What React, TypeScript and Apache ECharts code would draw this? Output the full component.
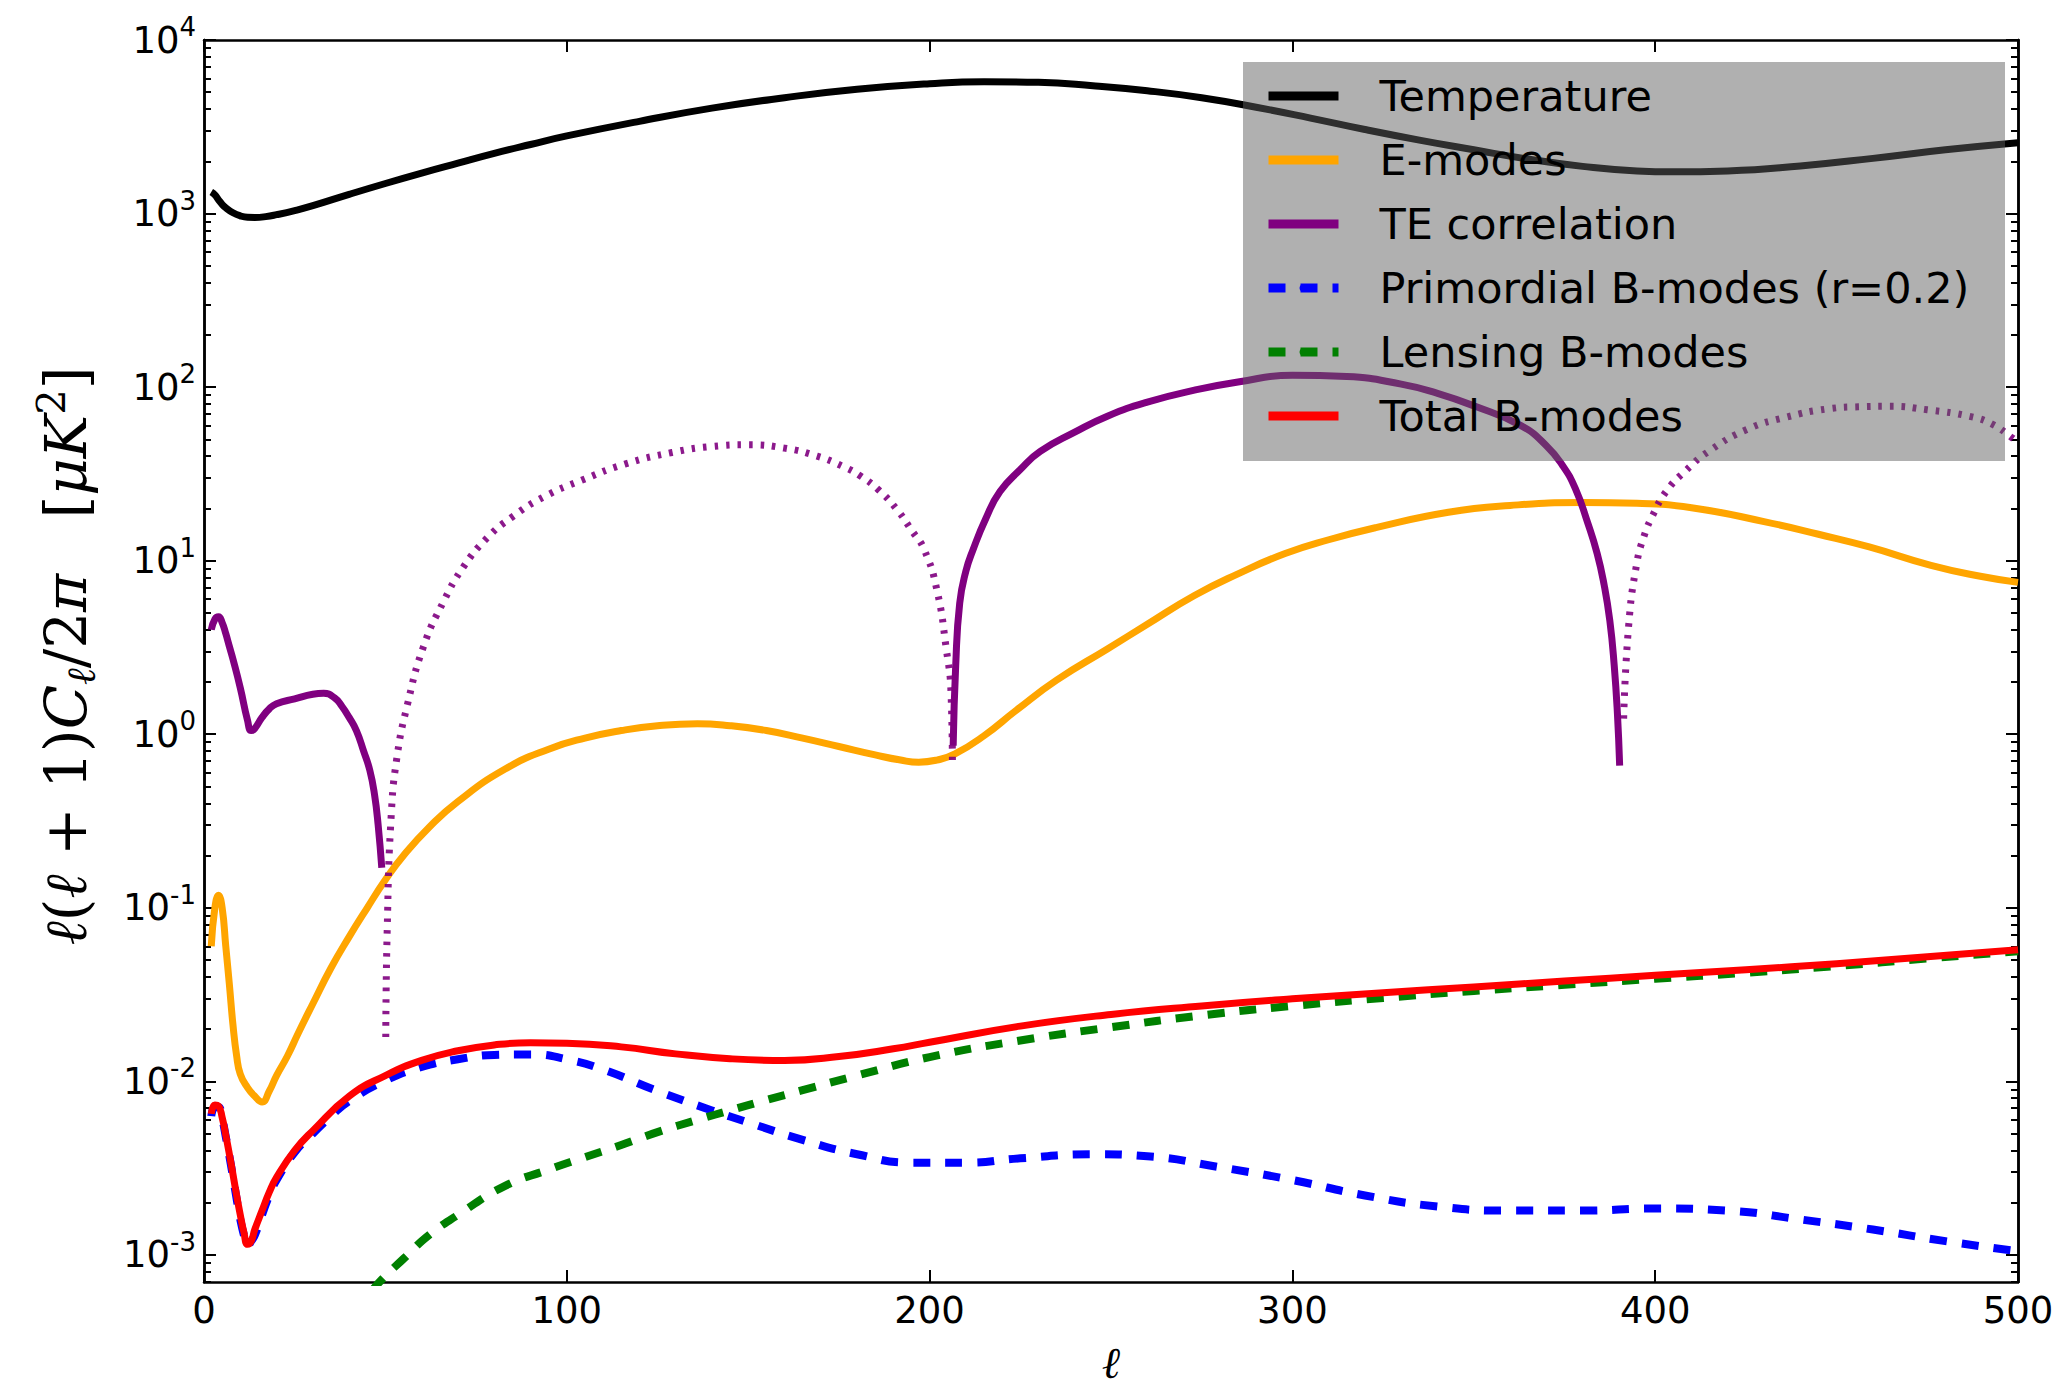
import React, { useEffect, useRef } from 'react';
import * as echarts from 'echarts';

// ---------- data (multipole ell, l(l+1)C_l/2pi in muK^2) ----------
const temperature: [number, number][] = [
  [2, 1330], [3, 1280], [4, 1200], [5, 1130], [6, 1080], [8, 1010], [10, 970], [12, 952], [14, 950],
  [17, 960], [20, 985], [25, 1040], [30, 1110], [40, 1290], [50, 1490], [60, 1710], [70, 1950],
  [80, 2220], [90, 2500], [100, 2800], [120, 3400], [140, 4050], [160, 4650], [180, 5200], [200, 5600],
  [215, 5750], [230, 5700], [245, 5450], [260, 5100], [275, 4650], [290, 4100], [305, 3550], [320, 3050],
  [335, 2650], [350, 2330], [365, 2060], [380, 1870], [395, 1760], [405, 1740], [420, 1760], [440, 1880],
  [460, 2080], [480, 2330], [500, 2560],
];

const eModes: [number, number][] = [
  [2, 0.06], [3, 0.1], [4, 0.118], [5, 0.1], [6, 0.06], [7, 0.036], [8, 0.021], [9, 0.014], [10, 0.011],
  [12, 0.0092], [14, 0.0082], [16, 0.0076], [18, 0.0088], [20, 0.0108], [23, 0.014], [26, 0.019],
  [30, 0.028], [35, 0.045], [40, 0.068], [45, 0.1], [50, 0.145], [55, 0.2], [62, 0.29], [70, 0.41],
  [83, 0.63], [95, 0.82], [105, 0.95], [115, 1.05], [125, 1.12], [136, 1.15], [145, 1.12], [155, 1.05],
  [165, 0.95], [175, 0.85], [185, 0.76], [192, 0.71], [197, 0.69], [202, 0.71], [207, 0.77], [215, 0.98],
  [224, 1.38], [235, 2.05], [249, 3.1], [260, 4.3], [273, 6.3], [285, 8.4], [298, 11], [310, 13.2],
  [323, 15.5], [343, 19], [360, 20.8], [380, 21.6], [395, 21.4], [410, 20.2], [430, 16.8], [445, 14.2],
  [459, 12], [476, 9.4], [490, 8.1], [500, 7.5],
];

// TE: positive parts (solid) and |negative| parts (dotted)
const tePositiveLow: [number, number][] = [
  [2, 4.0], [3, 4.6], [4, 4.75], [5, 4.4], [6, 3.8], [7, 3.2], [8, 2.7], [10, 1.85], [12, 1.2],
  [13, 1.05], [14, 1.08], [16, 1.25], [18, 1.4], [20, 1.5], [25, 1.6], [30, 1.7], [33, 1.72], [36, 1.62],
  [38, 1.45], [40, 1.25], [42, 1.05], [44, 0.8], [45.7, 0.62], [47, 0.45], [48, 0.3], [49, 0.17],
];
const teNegativeLow: [number, number][] = [
  [50.1, 0.018], [50.5, 0.075], [51.6, 0.34], [53.2, 0.74], [56, 1.46], [60.5, 3.2], [66, 5.8],
  [71.5, 9.2], [78, 13.5], [85, 17.9], [94, 23.5], [104, 29], [116, 36], [129, 42], [140, 45.5],
  [150, 46.5], [160, 44.5], [169, 40], [176, 35], [181, 30.7], [186, 25.5], [191, 19.7], [195, 15],
  [198.5, 11.6], [202, 6.8], [204.6, 3.1], [205.9, 1.74], [206.3, 0.64],
];
const tePositiveHigh: [number, number][] = [
  [206.5, 0.86], [207.2, 2.5], [208.3, 5.7], [210, 8.7], [212, 11.6], [215.5, 17.5], [219.4, 25],
  [225, 33.5], [230.5, 42.6], [240, 55], [249, 68], [260, 82], [273, 96], [285, 107], [300, 117],
  [315, 115], [330, 104], [340, 92], [350, 78], [363, 60], [370, 46], [374.6, 35], [378, 26],
  [381.4, 16.5], [384, 11], [385.9, 7.3], [387.5, 4.5], [388.7, 2.5], [389.6, 1.3], [390.2, 0.66],
];
const teNegativeHigh: [number, number][] = [
  [391.3, 1.23], [392.7, 4.26], [394.9, 9.6], [397, 14], [399.4, 18.4], [403, 25], [408.4, 33],
  [415, 43], [425.3, 57], [436, 67], [447.8, 75], [456, 77], [464.7, 77.5], [475, 74], [487, 67.6],
  [493, 61], [498.4, 51], [500, 48],
];

const bPrimordial: [number, number][] = [
  [2, 0.0063], [3, 0.0071], [4, 0.0071], [5, 0.0061], [6, 0.0048], [7, 0.0037], [8, 0.0028], [9, 0.0021],
  [10, 0.0016], [11, 0.0013], [12, 0.00112], [13, 0.0012], [14, 0.0013], [16, 0.0017], [18, 0.0022],
  [20, 0.0027], [25, 0.0039], [30, 0.005], [35, 0.0063], [40, 0.0077], [50, 0.0101], [60, 0.0121],
  [70, 0.0134], [80, 0.0142], [90, 0.0143], [100, 0.0134], [110, 0.0117], [125, 0.0088], [140, 0.0068],
  [150, 0.0058], [165, 0.0046], [180, 0.0038], [195, 0.0034], [210, 0.0034], [225, 0.0036], [245, 0.0038],
  [260, 0.0037], [280, 0.0032], [300, 0.0027], [320, 0.0022], [340, 0.0019], [360, 0.0018], [380, 0.0018],
  [400, 0.00185], [420, 0.0018], [440, 0.0016], [460, 0.0014], [480, 0.0012], [500, 0.00105],
];

const bLensing: [number, number][] = [
  [40, 0.00046], [45, 0.00058], [49, 0.00072], [55, 0.00095], [62, 0.0013], [70, 0.0017], [83, 0.0025],
  [95, 0.0031], [104, 0.0036], [115, 0.0043], [125, 0.0051], [136, 0.006], [146, 0.0069], [155, 0.0078],
  [165, 0.0089], [180, 0.0108], [200, 0.0138], [225, 0.0172], [250, 0.0205], [275, 0.024], [300, 0.0272],
  [325, 0.0302], [350, 0.0332], [375, 0.036], [400, 0.039], [425, 0.0422], [450, 0.0462], [475, 0.051],
  [500, 0.0562],
];

const bTotal: [number, number][] = [
  [2, 0.0065], [3, 0.0073], [4, 0.0072], [5, 0.0062], [6, 0.0049], [7, 0.0038], [8, 0.0029], [9, 0.0022],
  [10, 0.0017], [11, 0.00135], [12, 0.00115], [13, 0.0012], [14, 0.0014], [16, 0.0018], [18, 0.0023],
  [20, 0.0028], [25, 0.004], [30, 0.0052], [40, 0.0082], [50, 0.0108], [60, 0.0132], [70, 0.015],
  [80, 0.0162], [90, 0.0167], [100, 0.0166], [115, 0.0158], [130, 0.0144], [145, 0.0135], [160, 0.0132],
  [175, 0.0139], [190, 0.0154], [200, 0.0168], [225, 0.0208], [250, 0.0243], [275, 0.0272], [300, 0.0299],
  [325, 0.0324], [350, 0.035], [375, 0.0378], [400, 0.0408], [425, 0.044], [450, 0.0476], [475, 0.0522],
  [500, 0.0573],
];

const legendNames = [
  'Temperature',
  'E-modes',
  'TE correlation',
  'Primordial B-modes (r=0.2)',
  'Lensing B-modes',
  'Total B-modes',
];

const xTicks = [0, 100, 200, 300, 400, 500];
const yMajorTicks = [1e-3, 1e-2, 1e-1, 1, 10, 100, 1000, 10000];
const Y_MIN = 0.000698;
const Y_MAX = 10000;
const yMinorTicks: number[] = [];
for (let e = -4; e <= 3; e++) {
  for (let k = 2; k <= 9; k++) {
    const v = k * Math.pow(10, e);
    if (v >= Y_MIN && v <= Y_MAX) yMinorTicks.push(v);
  }
}

const TICK_FONT = 'DejaVu Sans';
const SERIF = "'DejaVu Serif', 'Liberation Serif', serif";

export default function App() {
  const ref = useRef<HTMLDivElement>(null);

  useEffect(() => {
    if (!ref.current) return;
    const chart = echarts.init(ref.current, undefined, { renderer: 'svg' });

    const axisLine = { show: true, lineStyle: { color: '#000', width: 2.5 } };
    const majorTick = { show: true, inside: true, length: 12, lineStyle: { color: '#000', width: 2 } };
    const minorTick = { show: true, inside: true, length: 7, lineStyle: { color: '#000', width: 2 } };

    const yAxisBase = (position: string, ticks: number[], tick: any, showLabel: boolean) => ({
      type: 'log',
      logBase: 10,
      min: Y_MIN,
      max: Y_MAX,
      position,
      axisLine,
      axisTick: { ...tick, customValues: ticks },
      minorTick: { show: false },
      splitLine: { show: false },
      axisLabel: showLabel
        ? {
            show: true,
            customValues: ticks,
            margin: 8,
            formatter: (v: number) => {
              const e = Math.round(Math.log10(v));
              return '{b|10}{s|' + e + '}';
            },
            rich: {
              b: { fontFamily: TICK_FONT, fontSize: 37, color: '#000', lineHeight: 52 },
              s: { fontFamily: TICK_FONT, fontSize: 26, color: '#000', lineHeight: 22, verticalAlign: 'top' },
            },
          }
        : { show: false },
    });

    const line = (name: string, data: [number, number][], color: string, width: number, type: any, opacity = 1) => ({
      type: 'line',
      name,
      data,
      showSymbol: false,
      symbol: 'none',
      smooth: 0.5,
      silent: true,
      z: 2,
      itemStyle: { color },
      lineStyle: { color, width, type, cap: 'butt', join: 'round', opacity },
    });

    const dashed = [17, 15];
    const dotted = [3.5, 8];

    chart.setOption({
      animation: false,
      backgroundColor: '#fff',
      grid: { left: 204, right: 43, top: 40, bottom: 112, containLabel: false },
      xAxis: [
        {
          type: 'value',
          min: 0,
          max: 500,
          interval: 100,
          position: 'bottom',
          axisLine,
          axisTick: majorTick,
          splitLine: { show: false },
          axisLabel: {
            show: true,
            customValues: xTicks,
            fontFamily: TICK_FONT,
            fontSize: 37,
            color: '#000',
            margin: 10,
          },
        },
        {
          type: 'value',
          min: 0,
          max: 500,
          interval: 100,
          position: 'top',
          axisLine,
          axisTick: majorTick,
          splitLine: { show: false },
          axisLabel: { show: false },
        },
      ],
      yAxis: [
        yAxisBase('left', yMajorTicks, majorTick, true),
        yAxisBase('left', yMinorTicks, minorTick, false),
        yAxisBase('right', yMajorTicks, majorTick, false),
        yAxisBase('right', yMinorTicks, minorTick, false),
      ],
      legend: {
        show: true,
        orient: 'vertical',
        left: 1264,
        top: 71,
        padding: 0,
        itemWidth: 70,
        itemHeight: 10,
        itemGap: 14,
        selectedMode: false,
        data: legendNames,
        z: 6,
        lineStyle: { width: 9 },
        textStyle: {
          fontFamily: TICK_FONT,
          fontSize: 43,
          color: '#000',
          lineHeight: 50,
          padding: [0, 0, 0, 36],
        },
      },
      series: [
        line('Temperature', temperature, '#000000', 7, 'solid'),
        line('E-modes', eModes, '#FFA500', 7, 'solid'),
        line('TE correlation', tePositiveLow, '#800080', 7, 'solid'),
        line('TE correlation', tePositiveHigh, '#800080', 7, 'solid'),
        line('TE negative', teNegativeLow, '#800080', 7, dotted, 0.9),
        line('TE negative', teNegativeHigh, '#800080', 7, dotted, 0.9),
        line('Primordial B-modes (r=0.2)', bPrimordial, '#0000FF', 8, dashed),
        line('Lensing B-modes', bLensing, '#008000', 8, dashed),
        line('Total B-modes', bTotal, '#FF0000', 7, 'solid'),
      ],
      graphic: [
        {
          type: 'rect',
          z: 3,
          silent: true,
          shape: { x: 1243, y: 62, width: 762, height: 399 },
          style: { fill: 'rgba(93,93,93,0.49)' },
        },
        {
          type: 'text',
          z: 5,
          silent: true,
          x: 66,
          y: 656,
          rotation: Math.PI / 2,
          style: {
            text: '{i|ℓ}{n|(}{i|ℓ}{n| + 1)}{i|C}{sub|ℓ}{n|/2}{i|π}{n|   [}{i|μK}{sup|2}{n|]}',
            align: 'center',
            verticalAlign: 'middle',
            rich: {
              i: { fontFamily: SERIF, fontStyle: 'italic', fontSize: 58, lineHeight: 70, fill: '#000' },
              n: { fontFamily: SERIF, fontSize: 58, lineHeight: 70, fill: '#000' },
              sub: { fontFamily: SERIF, fontStyle: 'italic', fontSize: 40, lineHeight: 40, verticalAlign: 'bottom', fill: '#000' },
              sup: { fontFamily: SERIF, fontSize: 40, lineHeight: 36, verticalAlign: 'top', fill: '#000' },
            },
          },
        },
        {
          type: 'text',
          z: 5,
          silent: true,
          x: 1111,
          y: 1362,
          style: {
            text: 'ℓ',
            fontFamily: SERIF,
            fontStyle: 'italic',
            fontSize: 44,
            fill: '#000',
            align: 'center',
            verticalAlign: 'middle',
          },
        },
      ],
    });

    return () => chart.dispose();
  }, []);

  return (
    <div
      ref={ref}
      style={{ position: 'fixed', left: 0, top: 0, width: '2061px', height: '1394px', background: '#fff' }}
    />
  );
}
